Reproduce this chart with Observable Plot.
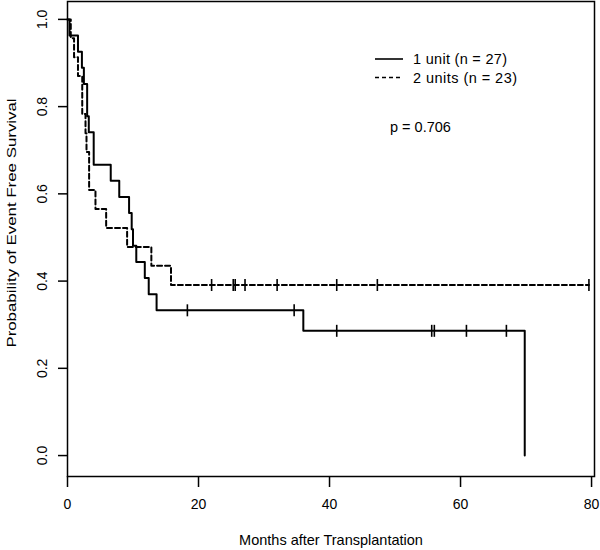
<!DOCTYPE html>
<html><head><meta charset="utf-8">
<script src="https://cdn.jsdelivr.net/npm/d3@7"></script>
<script src="https://cdn.jsdelivr.net/npm/@observablehq/plot@0.6"></script>
<style>
body{margin:0;background:#fff}
svg{font-family:"Liberation Sans",Arial,sans-serif}
</style>
</head><body><div id="chart"></div>
<script>
// Axis ticks
const xTicks = [0, 20, 40, 60, 80];
const yTicks = [0, 0.2, 0.4, 0.6, 0.8, 1.0];

// 1 unit (n = 27): Kaplan-Meier steps
const oneUnitTime = [0, 0.3, 1.6, 2.2, 2.5, 3.0, 3.25, 4.0, 6.6, 7.9, 9.4, 9.8, 10.0, 10.5, 11.8, 12.4, 13.6, 36.0, 69.8];
const oneUnitSurv = [1, 0.963, 0.926, 0.889, 0.852, 0.778, 0.741, 0.667, 0.630, 0.593, 0.556, 0.519, 0.481, 0.444, 0.407, 0.370, 0.333, 0.286, 0];
const oneUnitCensTime = [18.3, 34.6, 41.1, 55.6, 56.0, 60.9, 67.0];
const oneUnitCensSurv = [0.333, 0.333, 0.286, 0.286, 0.286, 0.286, 0.286];

// 2 units (n = 23)
const twoUnitTime = [0, 0.5, 1.0, 1.6, 2.25, 2.75, 2.9, 3.3, 4.27, 5.9, 9.1, 12.8, 15.8, 79.6];
const twoUnitSurv = [1, 0.957, 0.913, 0.870, 0.783, 0.739, 0.696, 0.609, 0.565, 0.522, 0.478, 0.435, 0.391, 0.391];
const twoUnitCensTime = [22.0, 25.3, 25.6, 27.1, 32.0, 41.1, 47.3, 79.6];
const twoUnitCensSurv = [0.391, 0.391, 0.391, 0.391, 0.391, 0.391, 0.391, 0.391];

const legendLabels = ["1 unit (n = 27)", "2 units (n = 23)"];
const pValueText = "p = 0.706";
const xTitle = "Months after Transplantation";
const yTitle = "Probability of Event Free Survival";

const zip = (ts, ss) => ts.map((t, i) => ({t, s: ss[i]}));
const oneUnit = zip(oneUnitTime, oneUnitSurv);
const twoUnit = zip(twoUnitTime, twoUnitSurv);
const oneCens = zip(oneUnitCensTime, oneUnitCensSurv);
const twoCens = zip(twoUnitCensTime, twoUnitCensSurv);

const vtick = {draw(ctx) { ctx.moveTo(0, -6); ctx.lineTo(0, 6); }};

const plot = Plot.plot({
  width: 600, height: 550,
  marginLeft: 67, marginRight: 6, marginTop: 1, marginBottom: 74,
  style: {fontFamily: "Liberation Sans, Arial, sans-serif", fontSize: "14px", background: "white", color: "black"},
  x: {domain: [0, 80.45]},
  y: {domain: [-0.048, 1.041]},
  marks: [
    Plot.axisX({ticks: xTicks, tickSize: 11, tickPadding: 12, label: null, fontSize: 14, strokeWidth: 1.5}),
    Plot.axisY({ticks: yTicks, tickSize: 9, tickPadding: 12, tickFormat: d3.format(".1f"), tickRotate: -90, label: null, fontSize: 14, strokeWidth: 1.5}),
    Plot.frame({stroke: "black", strokeWidth: 1.5}),
    Plot.line(oneUnit, {x: "t", y: "s", curve: "step-after", stroke: "black", strokeWidth: 2}),
    Plot.line(twoUnit, {x: "t", y: "s", curve: "step-after", stroke: "black", strokeWidth: 2, strokeDasharray: "5,3"}),
    Plot.dot(oneCens, {x: "t", y: "s", symbol: vtick, stroke: "black", strokeWidth: 1.6, r: 6}),
    Plot.dot(twoCens, {x: "t", y: "s", symbol: vtick, stroke: "black", strokeWidth: 1.6, r: 6})
  ]
});

const svg = d3.select(plot);
// axis titles
svg.append("text").attr("x", 331).attr("y", 540).attr("dy", "0.35em").attr("text-anchor", "middle")
  .attr("font-size", 14.5).attr("fill", "black").text(xTitle);
svg.append("text").attr("transform", "translate(11,223) rotate(-90) scale(1.25,1)").attr("dy", "0.35em").attr("text-anchor", "middle")
  .attr("font-size", 13.5).attr("fill", "black").text(yTitle);
// legend
const legendWidths = [94, 104];
const lg = svg.append("g");
legendLabels.forEach((lab, i) => {
  const y = 59 + i * 18.5;
  lg.append("line").attr("x1", 375).attr("x2", 403).attr("y1", y).attr("y2", y)
    .attr("stroke", "black").attr("stroke-width", 1.6)
    .attr("stroke-dasharray", i === 0 ? null : "4,3");
  lg.append("text").attr("x", 413).attr("y", y).attr("dy", "0.35em").attr("text-anchor", "start")
    .attr("textLength", legendWidths[i]).attr("lengthAdjust", "spacing")
    .attr("font-size", 14.5).attr("fill", "black").text(lab);
});
svg.append("text").attr("x", 390).attr("y", 127).attr("dy", "0.35em").attr("text-anchor", "start")
  .attr("font-size", 14.5).attr("fill", "black").text(pValueText);

document.getElementById("chart").appendChild(plot);
</script>
</body></html>
